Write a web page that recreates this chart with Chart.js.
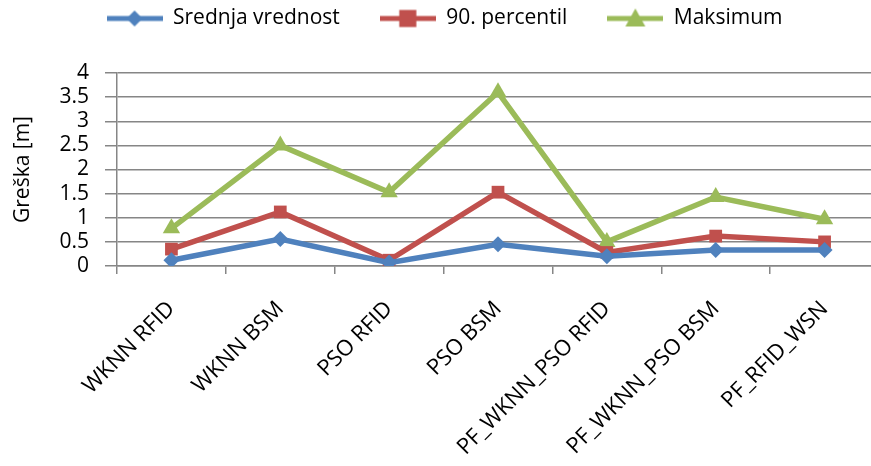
<!DOCTYPE html>
<html><head><meta charset="utf-8">
<script src="https://cdn.jsdelivr.net/npm/chart.js@4.4.1/dist/chart.umd.min.js"></script>
<style>
html,body{margin:0;padding:0;overflow:hidden;background:#fff;}
#c{display:block;}
</style></head>
<body><canvas id="c" width="889" height="466"></canvas>
<script>
const categories = ["WKNN RFID","WKNN BSM","PSO RFID","PSO BSM","PF_WKNN_PSO RFID","PF_WKNN_PSO BSM","PF_RFID_WSN"];
const srednja = [0.12, 0.56, 0.07, 0.45, 0.20, 0.33, 0.33];
const percentil90 = [0.35, 1.12, 0.12, 1.53, 0.28, 0.62, 0.50];
const maksimum = [0.78, 2.50, 1.53, 3.60, 0.50, 1.43, 0.97];
const seriesNames = ["Srednja vrednost","90. percentil","Maksimum"];
const yTicks = [0,0.5,1,1.5,2,2.5,3,3.5,4];

const colors = ["#4F81BD","#C0504D","#9BBB59"];
const styles = ["rectRot","rect","triangle"];
const radii = [8,9,10];
const FONT = '"Open Sans", Lato, sans-serif';

function legendIcon(i){
  const cv = document.createElement('canvas');
  cv.width = 56; cv.height = 22;
  const ctx = cv.getContext('2d');
  ctx.strokeStyle = colors[i]; ctx.lineWidth = 5;
  ctx.beginPath(); ctx.moveTo(0,11); ctx.lineTo(56,11); ctx.stroke();
  ctx.fillStyle = colors[i];
  const r = radii[i];
  ctx.beginPath();
  if(styles[i]==="rectRot"){ctx.moveTo(28,11-r);ctx.lineTo(28+r,11);ctx.lineTo(28,11+r);ctx.lineTo(28-r,11);}
  else if(styles[i]==="rect"){const s=r*0.95;ctx.rect(28-s,11-s,2*s,2*s);}
  else {ctx.moveTo(28,1);ctx.lineTo(38,19);ctx.lineTo(18,19);}
  ctx.closePath(); ctx.fill();
  return cv;
}
const icons = [0,1,2].map(legendIcon);

const data = {
  labels: categories,
  datasets: [srednja, percentil90, maksimum].map((d,i)=>({
    label: seriesNames[i], data: d,
    borderColor: colors[i], backgroundColor: colors[i],
    borderWidth: 5.5, pointStyle: styles[i], pointRadius: radii[i],
    pointBorderWidth: 0, pointBackgroundColor: colors[i], tension: 0
  }))
};

const legendHeightPlugin = {
  id: 'legendHeight',
  beforeLayout(chart){
    const lg = chart.legend;
    if (lg && !lg._patched){
      const f = lg.fit.bind(lg);
      lg.fit = function(){ f(); this.height = 105; };
      lg._patched = true;
    }
  }
};

new Chart(document.getElementById('c'), {
  type: 'line',
  data,
  plugins: [legendHeightPlugin],
  options: {
    responsive: false, animation: false, devicePixelRatio: 1,
    layout: {padding: {top: -32, right: 0, left: 0, bottom: 4}},
    plugins: {
      tooltip: {enabled: false},
      legend: {
        position: 'top',
        labels: {
          usePointStyle: true, pointStyleWidth: 56, padding: 40,
          color: '#000', font: {family: FONT, size: 21},
          generateLabels: (chart) => chart.data.datasets.map((ds,i)=>({
            text: ds.label, pointStyle: icons[i], fillStyle: colors[i],
            strokeStyle: colors[i], lineWidth: 0, datasetIndex: i, hidden: false, fontColor: '#000'
          }))
        }
      }
    },
    scales: {
      x: {
        offset: true,
        afterFit: (scale) => { scale.height = 196; scale.paddingLeft = 0; scale.paddingRight = 0; },
        grid: {offset: true, drawOnChartArea: false, drawTicks: true, tickLength: 8, color: '#868686', lineWidth: 1.5},
        border: {color: '#868686', width: 1.5},
        ticks: {color: '#000', font: {family: FONT, size: 22}, maxRotation: 45, minRotation: 45, autoSkip: false, padding: 22}
      },
      y: {
        min: 0, max: 4,
        afterBuildTicks: (scale) => { scale.ticks = yTicks.map(v=>({value:v})); },
        afterFit: (scale) => { scale.width = 117; },
        grid: {color: '#868686', lineWidth: 1.5, tickLength: 12},
        border: {color: '#868686', width: 1.5},
        ticks: {color: '#000', font: {family: FONT, size: 21}, padding: 16, autoSkip: false, callback: v => String(v)},
        title: {display: true, text: 'Greška [m]', color: '#000', font: {family: FONT, size: 21}, padding: {top: 10, bottom: 0}}
      }
    }
  }
});
</script></body></html>
